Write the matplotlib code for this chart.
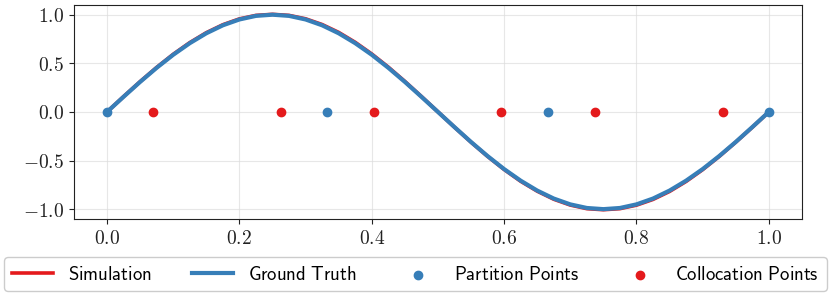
import matplotlib
matplotlib.use("Agg")
import matplotlib.pyplot as plt
from matplotlib.ticker import FuncFormatter

plt.rcParams['mathtext.fontset'] = 'cm'

# curve samples
x_curve = [0.000, 0.025, 0.050, 0.075, 0.100, 0.125, 0.150, 0.175, 0.200, 0.225,
           0.250, 0.275, 0.300, 0.325, 0.350, 0.375, 0.400, 0.425, 0.450, 0.475,
           0.500, 0.525, 0.550, 0.575, 0.600, 0.625, 0.650, 0.675, 0.700, 0.725,
           0.750, 0.775, 0.800, 0.825, 0.850, 0.875, 0.900, 0.925, 0.950, 0.975,
           1.000]
ground_truth = [0.0, 0.156, 0.309, 0.454, 0.588, 0.707, 0.809, 0.891, 0.951, 0.988,
                1.0, 0.988, 0.951, 0.891, 0.809, 0.707, 0.588, 0.454, 0.309, 0.156,
                0.0, -0.156, -0.309, -0.454, -0.588, -0.707, -0.809, -0.891, -0.951, -0.988,
                -1.0, -0.988, -0.951, -0.891, -0.809, -0.707, -0.588, -0.454, -0.309, -0.156,
                0.0]
simulation = [0.0, 0.158, 0.312, 0.458, 0.593, 0.713, 0.815, 0.897, 0.957, 0.993,
              1.004, 0.993, 0.958, 0.899, 0.818, 0.716, 0.596, 0.461, 0.314, 0.159,
              0.001, -0.157, -0.311, -0.457, -0.592, -0.713, -0.815, -0.898, -0.958, -0.995,
              -1.006, -0.995, -0.959, -0.900, -0.818, -0.715, -0.594, -0.458, -0.311, -0.158,
              0.0]

partition_x = [0.0, 0.333, 0.667, 1.0]
partition_y = [0.0, 0.0, 0.0, 0.0]
colloc_x = [0.070, 0.263, 0.404, 0.596, 0.737, 0.930]
colloc_y = [0.0, 0.0, 0.0, 0.0, 0.0, 0.0]

red = '#e41a1c'
blue = '#377eb8'

fig = plt.figure(figsize=(8.31, 2.93), dpi=100)
ax = fig.add_axes([0.089, 0.253, 0.876, 0.730])

ax.plot(x_curve, simulation, color=red, lw=2.6, label=r'$\mathsf{Simulation}$', zorder=2)
ax.plot(x_curve, ground_truth, color=blue, lw=3.0, label=r'$\mathsf{Ground\ Truth}$', zorder=3)
ax.scatter(partition_x, partition_y, color=blue, s=36, label=r'$\mathsf{Partition\ Points}$', zorder=4)
ax.scatter(colloc_x, colloc_y, color=red, s=36, label=r'$\mathsf{Collocation\ Points}$', zorder=4)

ax.set_xlim(-0.05, 1.05)
ax.set_ylim(-1.1, 1.1)
ax.set_xticks([0.0, 0.2, 0.4, 0.6, 0.8, 1.0])
ax.set_yticks([-1.0, -0.5, 0.0, 0.5, 1.0])
fmt = FuncFormatter(lambda v, p: f'${v:.1f}$')
ax.xaxis.set_major_formatter(fmt)
ax.yaxis.set_major_formatter(fmt)
ax.tick_params(labelsize=14, colors='#222222')
ax.grid(True, color='#dddddd', lw=0.8, alpha=0.7)
for s in ax.spines.values():
    s.set_color('#222222')

fig.legend(loc='lower center', bbox_to_anchor=(0.5, 0.0), ncol=4, fontsize=13.5,
           handlelength=2.2, handletextpad=0.8, columnspacing=2.15,
           borderpad=0.4, borderaxespad=0.1, framealpha=1.0, edgecolor='#cccccc')

fig.savefig('out.png', dpi=100)
